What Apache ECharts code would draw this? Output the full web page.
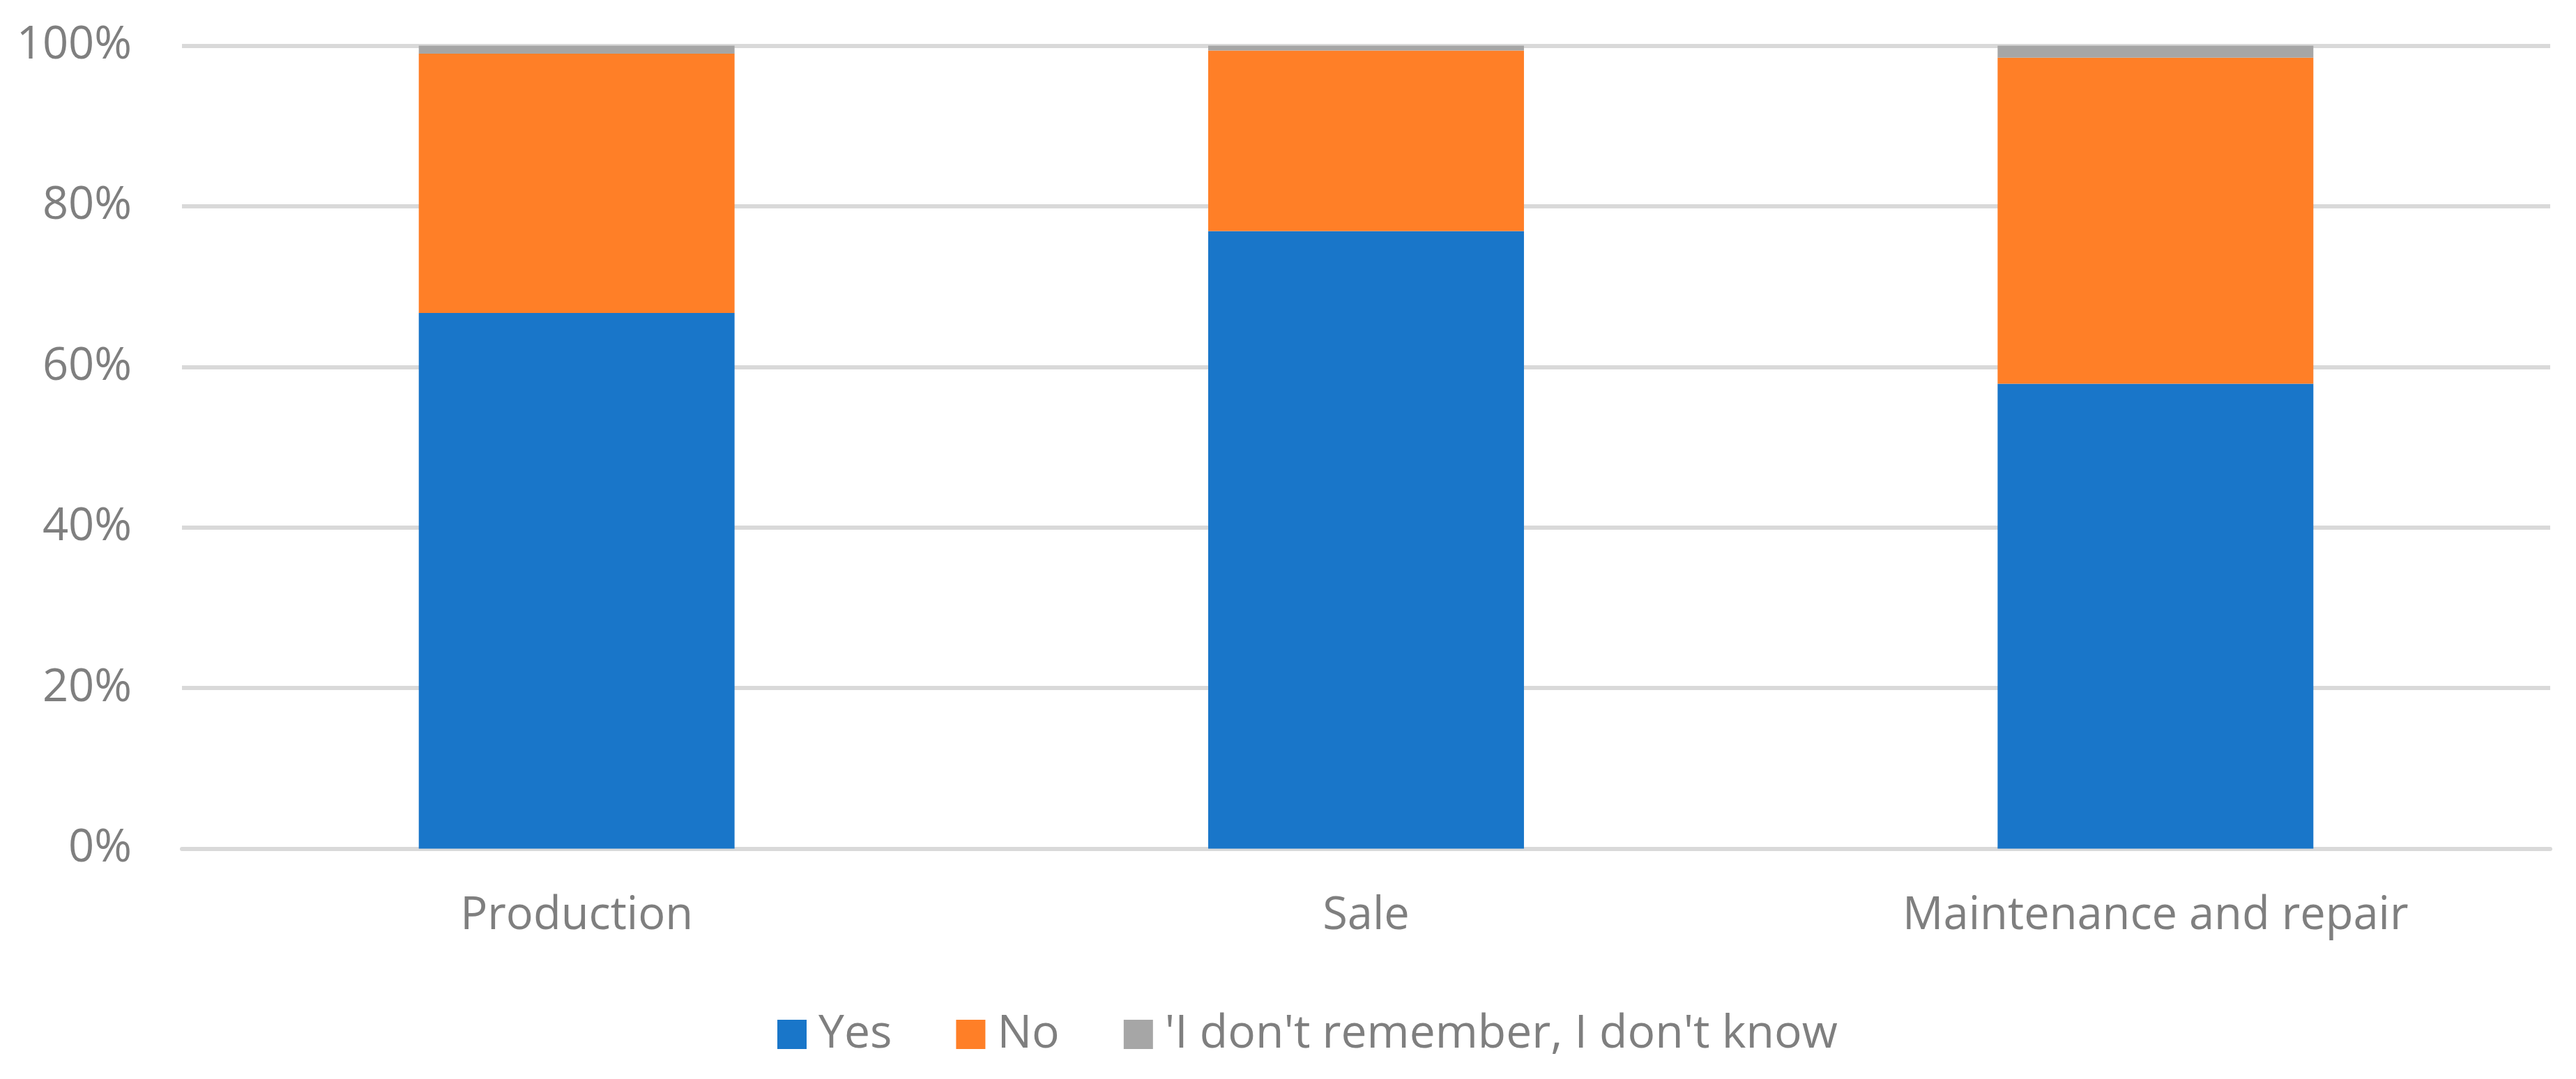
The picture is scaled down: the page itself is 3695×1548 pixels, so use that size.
<!DOCTYPE html>
<html>
<head>
<meta charset="utf-8">
<script src="https://cdn.jsdelivr.net/npm/echarts@6/dist/echarts.min.js"></script>
<style>
  html, body { margin: 0; padding: 0; background: #fff; }
  #chart { width: 3695px; height: 1548px; }
</style>
</head>
<body>
<div id="chart"></div>
<script>
const categories = ['Production', 'Sale', 'Maintenance and repair'];
const yesValues = [66.7, 76.9, 57.9];
const noValues = [32.3, 22.5, 40.6];
const dontKnowValues = [1.0, 0.6, 1.5];
const seriesNames = ['Yes', 'No', '\'I don\'t remember, I don\'t know'];

const textColor = '#7f7f7f';
const lineColor = '#d9d9d9';
const fontFamily = '"Open Sans", "Noto Sans", sans-serif';

const chartInstance = echarts.init(document.getElementById('chart'));

const makeSeries = (name, data, color) => ({
  name,
  type: 'bar',
  stack: 'total',
  data,
  barWidth: '40%',
  itemStyle: { color }
});

chartInstance.setOption({
  animation: false,
  textStyle: { fontFamily },
  grid: {
    left: 261,
    right: 37,
    top: 65.5,
    bottom: 330.5,
    containLabel: false
  },
  legend: {
    left: 1110,
    top: 1446,
    itemWidth: 42,
    itemHeight: 42,
    itemGap: 92,
    icon: 'rect',
    textStyle: {
      color: textColor,
      fontSize: 66,
      fontFamily,
      padding: [0, 0, 0, 12]
    },
    data: seriesNames
  },
  xAxis: {
    type: 'category',
    data: categories,
    axisTick: { show: false },
    axisLine: {
      lineStyle: { color: lineColor, width: 6 }
    },
    axisLabel: {
      color: textColor,
      fontSize: 65,
      fontFamily,
      margin: 64
    }
  },
  yAxis: {
    type: 'value',
    min: 0,
    max: 100,
    interval: 20,
    axisLine: { show: false },
    axisTick: { show: false },
    axisLabel: {
      color: textColor,
      fontSize: 65,
      fontFamily,
      margin: 72,
      formatter: (value) => `${value}%`
    },
    splitLine: {
      lineStyle: { color: lineColor, width: 6 }
    }
  },
  series: [
    makeSeries(seriesNames[0], yesValues, '#1976c9'),
    makeSeries(seriesNames[1], noValues, '#ff7f27'),
    makeSeries(seriesNames[2], dontKnowValues, '#a6a6a6')
  ]
});
</script>
</body>
</html>
